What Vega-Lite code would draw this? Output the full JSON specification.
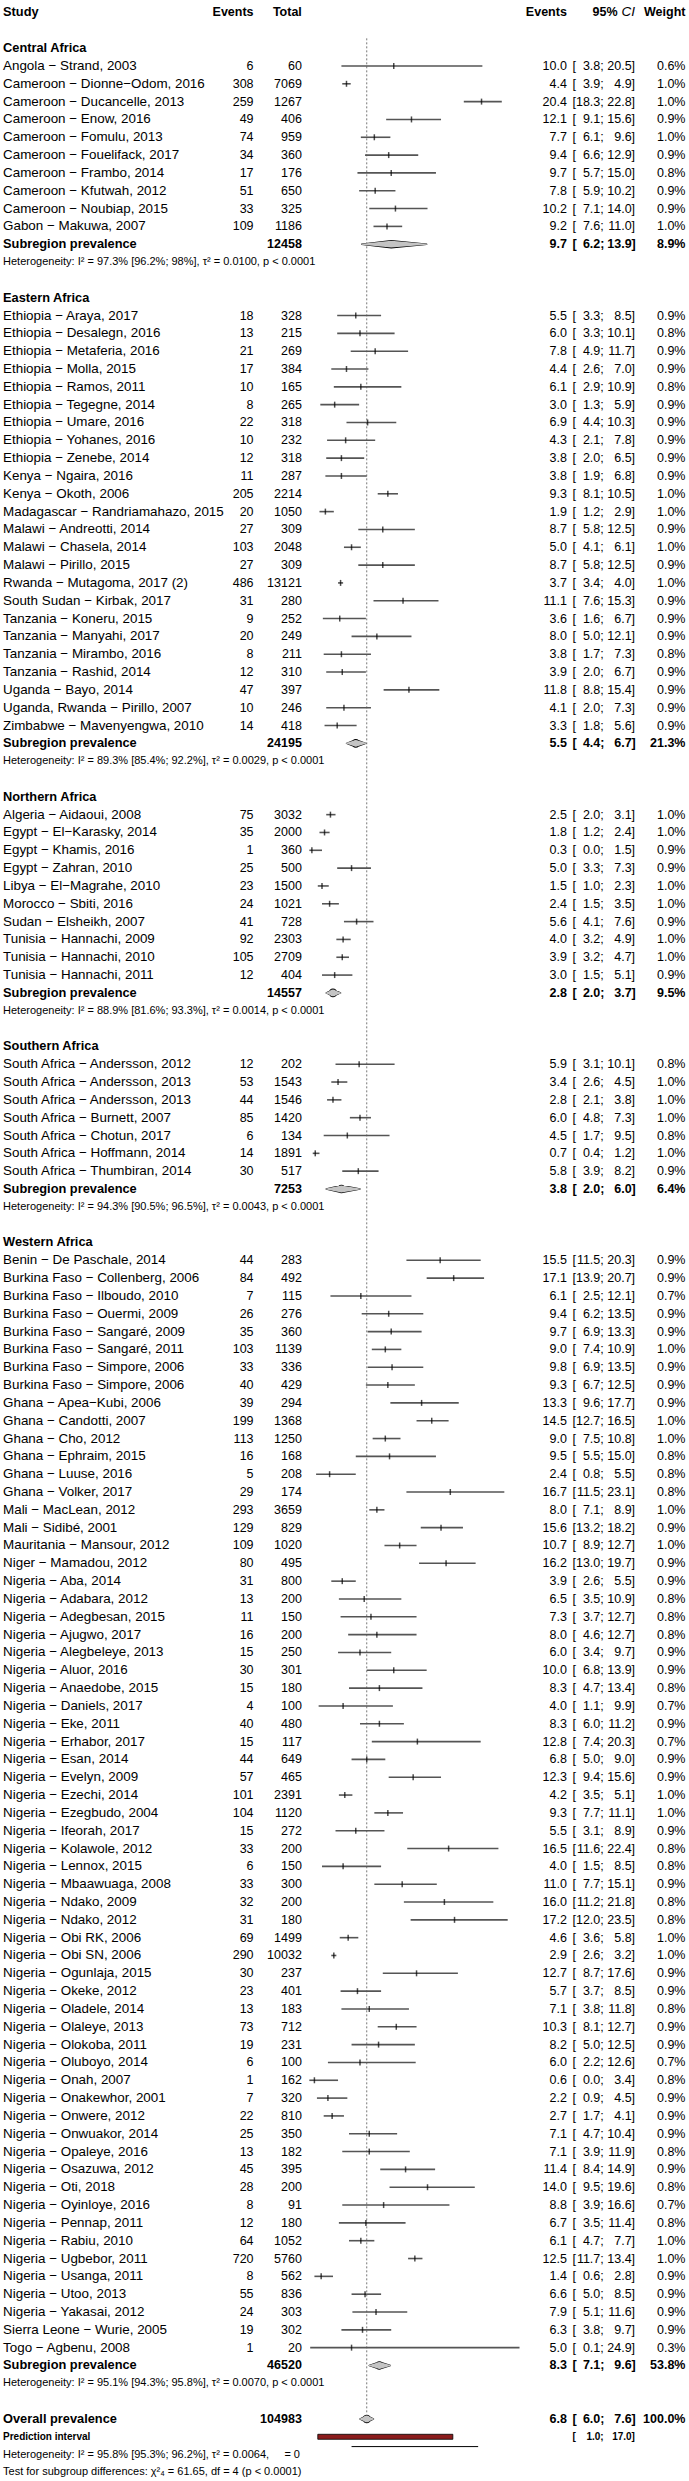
{
"$schema": "https://vega.github.io/schema/vega-lite/v6.json",
"width": 689, "height": 2481, "padding": 0, "autosize": {"type": "none"},
"background": "white",
"config": {"view": {"stroke": null}, "text": {"font": "Liberation Sans", "fontSize": 12.5, "baseline": "middle", "color": "#000"}},
"data": {"name": "rows"},
"datasets": {"rows": [
{"row":0,"type":"colhead","label":"Study"},
{"row":2,"type":"region","label":"Central Africa"},
{"row":3,"type":"study","label":"Angola − Strand, 2003","ev":6,"n":60,"est":10.0,"lo":3.8,"hi":20.5,"w":0.006},
{"row":4,"type":"study","label":"Cameroon − Dionne−Odom, 2016","ev":308,"n":7069,"est":4.4,"lo":3.9,"hi":4.9,"w":0.010},
{"row":5,"type":"study","label":"Cameroon − Ducancelle, 2013","ev":259,"n":1267,"est":20.4,"lo":18.3,"hi":22.8,"w":0.010},
{"row":6,"type":"study","label":"Cameroon − Enow, 2016","ev":49,"n":406,"est":12.1,"lo":9.1,"hi":15.6,"w":0.009},
{"row":7,"type":"study","label":"Cameroon − Fomulu, 2013","ev":74,"n":959,"est":7.7,"lo":6.1,"hi":9.6,"w":0.010},
{"row":8,"type":"study","label":"Cameroon − Fouelifack, 2017","ev":34,"n":360,"est":9.4,"lo":6.6,"hi":12.9,"w":0.009},
{"row":9,"type":"study","label":"Cameroon − Frambo, 2014","ev":17,"n":176,"est":9.7,"lo":5.7,"hi":15.0,"w":0.008},
{"row":10,"type":"study","label":"Cameroon − Kfutwah, 2012","ev":51,"n":650,"est":7.8,"lo":5.9,"hi":10.2,"w":0.009},
{"row":11,"type":"study","label":"Cameroon − Noubiap, 2015","ev":33,"n":325,"est":10.2,"lo":7.1,"hi":14.0,"w":0.009},
{"row":12,"type":"study","label":"Gabon − Makuwa, 2007","ev":109,"n":1186,"est":9.2,"lo":7.6,"hi":11.0,"w":0.010},
{"row":13,"type":"sub","label":"Subregion prevalence","n":12458,"est":9.7,"lo":6.2,"hi":13.9,"w":0.089},
{"row":14,"type":"het","label":"Heterogeneity: I² = 97.3% [96.2%; 98%], τ² = 0.0100, p < 0.0001"},
{"row":16,"type":"region","label":"Eastern Africa"},
{"row":17,"type":"study","label":"Ethiopia − Araya, 2017","ev":18,"n":328,"est":5.5,"lo":3.3,"hi":8.5,"w":0.009},
{"row":18,"type":"study","label":"Ethiopia − Desalegn, 2016","ev":13,"n":215,"est":6.0,"lo":3.3,"hi":10.1,"w":0.008},
{"row":19,"type":"study","label":"Ethiopia − Metaferia, 2016","ev":21,"n":269,"est":7.8,"lo":4.9,"hi":11.7,"w":0.009},
{"row":20,"type":"study","label":"Ethiopia − Molla, 2015","ev":17,"n":384,"est":4.4,"lo":2.6,"hi":7.0,"w":0.009},
{"row":21,"type":"study","label":"Ethiopia − Ramos, 2011","ev":10,"n":165,"est":6.1,"lo":2.9,"hi":10.9,"w":0.008},
{"row":22,"type":"study","label":"Ethiopia − Tegegne, 2014","ev":8,"n":265,"est":3.0,"lo":1.3,"hi":5.9,"w":0.009},
{"row":23,"type":"study","label":"Ethiopia − Umare, 2016","ev":22,"n":318,"est":6.9,"lo":4.4,"hi":10.3,"w":0.009},
{"row":24,"type":"study","label":"Ethiopia − Yohanes, 2016","ev":10,"n":232,"est":4.3,"lo":2.1,"hi":7.8,"w":0.009},
{"row":25,"type":"study","label":"Ethiopia − Zenebe, 2014","ev":12,"n":318,"est":3.8,"lo":2.0,"hi":6.5,"w":0.009},
{"row":26,"type":"study","label":"Kenya − Ngaira, 2016","ev":11,"n":287,"est":3.8,"lo":1.9,"hi":6.8,"w":0.009},
{"row":27,"type":"study","label":"Kenya − Okoth, 2006","ev":205,"n":2214,"est":9.3,"lo":8.1,"hi":10.5,"w":0.010},
{"row":28,"type":"study","label":"Madagascar − Randriamahazo, 2015","ev":20,"n":1050,"est":1.9,"lo":1.2,"hi":2.9,"w":0.010},
{"row":29,"type":"study","label":"Malawi − Andreotti, 2014","ev":27,"n":309,"est":8.7,"lo":5.8,"hi":12.5,"w":0.009},
{"row":30,"type":"study","label":"Malawi − Chasela, 2014","ev":103,"n":2048,"est":5.0,"lo":4.1,"hi":6.1,"w":0.010},
{"row":31,"type":"study","label":"Malawi − Pirillo, 2015","ev":27,"n":309,"est":8.7,"lo":5.8,"hi":12.5,"w":0.009},
{"row":32,"type":"study","label":"Rwanda − Mutagoma, 2017 (2)","ev":486,"n":13121,"est":3.7,"lo":3.4,"hi":4.0,"w":0.010},
{"row":33,"type":"study","label":"South Sudan − Kirbak, 2017","ev":31,"n":280,"est":11.1,"lo":7.6,"hi":15.3,"w":0.009},
{"row":34,"type":"study","label":"Tanzania − Koneru, 2015","ev":9,"n":252,"est":3.6,"lo":1.6,"hi":6.7,"w":0.009},
{"row":35,"type":"study","label":"Tanzania − Manyahi, 2017","ev":20,"n":249,"est":8.0,"lo":5.0,"hi":12.1,"w":0.009},
{"row":36,"type":"study","label":"Tanzania − Mirambo, 2016","ev":8,"n":211,"est":3.8,"lo":1.7,"hi":7.3,"w":0.008},
{"row":37,"type":"study","label":"Tanzania − Rashid, 2014","ev":12,"n":310,"est":3.9,"lo":2.0,"hi":6.7,"w":0.009},
{"row":38,"type":"study","label":"Uganda − Bayo, 2014","ev":47,"n":397,"est":11.8,"lo":8.8,"hi":15.4,"w":0.009},
{"row":39,"type":"study","label":"Uganda, Rwanda − Pirillo, 2007","ev":10,"n":246,"est":4.1,"lo":2.0,"hi":7.3,"w":0.009},
{"row":40,"type":"study","label":"Zimbabwe − Mavenyengwa, 2010","ev":14,"n":418,"est":3.3,"lo":1.8,"hi":5.6,"w":0.009},
{"row":41,"type":"sub","label":"Subregion prevalence","n":24195,"est":5.5,"lo":4.4,"hi":6.7,"w":0.213},
{"row":42,"type":"het","label":"Heterogeneity: I² = 89.3% [85.4%; 92.2%], τ² = 0.0029, p < 0.0001"},
{"row":44,"type":"region","label":"Northern Africa"},
{"row":45,"type":"study","label":"Algeria − Aidaoui, 2008","ev":75,"n":3032,"est":2.5,"lo":2.0,"hi":3.1,"w":0.010},
{"row":46,"type":"study","label":"Egypt − El−Karasky, 2014","ev":35,"n":2000,"est":1.8,"lo":1.2,"hi":2.4,"w":0.010},
{"row":47,"type":"study","label":"Egypt − Khamis, 2016","ev":1,"n":360,"est":0.3,"lo":0.0,"hi":1.5,"w":0.009},
{"row":48,"type":"study","label":"Egypt − Zahran, 2010","ev":25,"n":500,"est":5.0,"lo":3.3,"hi":7.3,"w":0.009},
{"row":49,"type":"study","label":"Libya − El−Magrahe, 2010","ev":23,"n":1500,"est":1.5,"lo":1.0,"hi":2.3,"w":0.010},
{"row":50,"type":"study","label":"Morocco − Sbiti, 2016","ev":24,"n":1021,"est":2.4,"lo":1.5,"hi":3.5,"w":0.010},
{"row":51,"type":"study","label":"Sudan − Elsheikh, 2007","ev":41,"n":728,"est":5.6,"lo":4.1,"hi":7.6,"w":0.009},
{"row":52,"type":"study","label":"Tunisia − Hannachi, 2009","ev":92,"n":2303,"est":4.0,"lo":3.2,"hi":4.9,"w":0.010},
{"row":53,"type":"study","label":"Tunisia − Hannachi, 2010","ev":105,"n":2709,"est":3.9,"lo":3.2,"hi":4.7,"w":0.010},
{"row":54,"type":"study","label":"Tunisia − Hannachi, 2011","ev":12,"n":404,"est":3.0,"lo":1.5,"hi":5.1,"w":0.009},
{"row":55,"type":"sub","label":"Subregion prevalence","n":14557,"est":2.8,"lo":2.0,"hi":3.7,"w":0.095},
{"row":56,"type":"het","label":"Heterogeneity: I² = 88.9% [81.6%; 93.3%], τ² = 0.0014, p < 0.0001"},
{"row":58,"type":"region","label":"Southern Africa"},
{"row":59,"type":"study","label":"South Africa − Andersson, 2012","ev":12,"n":202,"est":5.9,"lo":3.1,"hi":10.1,"w":0.008},
{"row":60,"type":"study","label":"South Africa − Andersson, 2013","ev":53,"n":1543,"est":3.4,"lo":2.6,"hi":4.5,"w":0.010},
{"row":61,"type":"study","label":"South Africa − Andersson, 2013","ev":44,"n":1546,"est":2.8,"lo":2.1,"hi":3.8,"w":0.010},
{"row":62,"type":"study","label":"South Africa − Burnett, 2007","ev":85,"n":1420,"est":6.0,"lo":4.8,"hi":7.3,"w":0.010},
{"row":63,"type":"study","label":"South Africa − Chotun, 2017","ev":6,"n":134,"est":4.5,"lo":1.7,"hi":9.5,"w":0.008},
{"row":64,"type":"study","label":"South Africa − Hoffmann, 2014","ev":14,"n":1891,"est":0.7,"lo":0.4,"hi":1.2,"w":0.010},
{"row":65,"type":"study","label":"South Africa − Thumbiran, 2014","ev":30,"n":517,"est":5.8,"lo":3.9,"hi":8.2,"w":0.009},
{"row":66,"type":"sub","label":"Subregion prevalence","n":7253,"est":3.8,"lo":2.0,"hi":6.0,"w":0.064},
{"row":67,"type":"het","label":"Heterogeneity: I² = 94.3% [90.5%; 96.5%], τ² = 0.0043, p < 0.0001"},
{"row":69,"type":"region","label":"Western Africa"},
{"row":70,"type":"study","label":"Benin − De Paschale, 2014","ev":44,"n":283,"est":15.5,"lo":11.5,"hi":20.3,"w":0.009},
{"row":71,"type":"study","label":"Burkina Faso − Collenberg, 2006","ev":84,"n":492,"est":17.1,"lo":13.9,"hi":20.7,"w":0.009},
{"row":72,"type":"study","label":"Burkina Faso − Ilboudo, 2010","ev":7,"n":115,"est":6.1,"lo":2.5,"hi":12.1,"w":0.007},
{"row":73,"type":"study","label":"Burkina Faso − Ouermi, 2009","ev":26,"n":276,"est":9.4,"lo":6.2,"hi":13.5,"w":0.009},
{"row":74,"type":"study","label":"Burkina Faso − Sangaré, 2009","ev":35,"n":360,"est":9.7,"lo":6.9,"hi":13.3,"w":0.009},
{"row":75,"type":"study","label":"Burkina Faso − Sangaré, 2011","ev":103,"n":1139,"est":9.0,"lo":7.4,"hi":10.9,"w":0.010},
{"row":76,"type":"study","label":"Burkina Faso − Simpore, 2006","ev":33,"n":336,"est":9.8,"lo":6.9,"hi":13.5,"w":0.009},
{"row":77,"type":"study","label":"Burkina Faso − Simpore, 2006","ev":40,"n":429,"est":9.3,"lo":6.7,"hi":12.5,"w":0.009},
{"row":78,"type":"study","label":"Ghana − Apea−Kubi, 2006","ev":39,"n":294,"est":13.3,"lo":9.6,"hi":17.7,"w":0.009},
{"row":79,"type":"study","label":"Ghana − Candotti, 2007","ev":199,"n":1368,"est":14.5,"lo":12.7,"hi":16.5,"w":0.010},
{"row":80,"type":"study","label":"Ghana − Cho, 2012","ev":113,"n":1250,"est":9.0,"lo":7.5,"hi":10.8,"w":0.010},
{"row":81,"type":"study","label":"Ghana − Ephraim, 2015","ev":16,"n":168,"est":9.5,"lo":5.5,"hi":15.0,"w":0.008},
{"row":82,"type":"study","label":"Ghana − Luuse, 2016","ev":5,"n":208,"est":2.4,"lo":0.8,"hi":5.5,"w":0.008},
{"row":83,"type":"study","label":"Ghana − Volker, 2017","ev":29,"n":174,"est":16.7,"lo":11.5,"hi":23.1,"w":0.008},
{"row":84,"type":"study","label":"Mali − MacLean, 2012","ev":293,"n":3659,"est":8.0,"lo":7.1,"hi":8.9,"w":0.010},
{"row":85,"type":"study","label":"Mali − Sidibé, 2001","ev":129,"n":829,"est":15.6,"lo":13.2,"hi":18.2,"w":0.009},
{"row":86,"type":"study","label":"Mauritania − Mansour, 2012","ev":109,"n":1020,"est":10.7,"lo":8.9,"hi":12.7,"w":0.010},
{"row":87,"type":"study","label":"Niger − Mamadou, 2012","ev":80,"n":495,"est":16.2,"lo":13.0,"hi":19.7,"w":0.009},
{"row":88,"type":"study","label":"Nigeria − Aba, 2014","ev":31,"n":800,"est":3.9,"lo":2.6,"hi":5.5,"w":0.009},
{"row":89,"type":"study","label":"Nigeria − Adabara, 2012","ev":13,"n":200,"est":6.5,"lo":3.5,"hi":10.9,"w":0.008},
{"row":90,"type":"study","label":"Nigeria − Adegbesan, 2015","ev":11,"n":150,"est":7.3,"lo":3.7,"hi":12.7,"w":0.008},
{"row":91,"type":"study","label":"Nigeria − Ajugwo, 2017","ev":16,"n":200,"est":8.0,"lo":4.6,"hi":12.7,"w":0.008},
{"row":92,"type":"study","label":"Nigeria − Alegbeleye, 2013","ev":15,"n":250,"est":6.0,"lo":3.4,"hi":9.7,"w":0.009},
{"row":93,"type":"study","label":"Nigeria − Aluor, 2016","ev":30,"n":301,"est":10.0,"lo":6.8,"hi":13.9,"w":0.009},
{"row":94,"type":"study","label":"Nigeria − Anaedobe, 2015","ev":15,"n":180,"est":8.3,"lo":4.7,"hi":13.4,"w":0.008},
{"row":95,"type":"study","label":"Nigeria − Daniels, 2017","ev":4,"n":100,"est":4.0,"lo":1.1,"hi":9.9,"w":0.007},
{"row":96,"type":"study","label":"Nigeria − Eke, 2011","ev":40,"n":480,"est":8.3,"lo":6.0,"hi":11.2,"w":0.009},
{"row":97,"type":"study","label":"Nigeria − Erhabor, 2017","ev":15,"n":117,"est":12.8,"lo":7.4,"hi":20.3,"w":0.007},
{"row":98,"type":"study","label":"Nigeria − Esan, 2014","ev":44,"n":649,"est":6.8,"lo":5.0,"hi":9.0,"w":0.009},
{"row":99,"type":"study","label":"Nigeria − Evelyn, 2009","ev":57,"n":465,"est":12.3,"lo":9.4,"hi":15.6,"w":0.009},
{"row":100,"type":"study","label":"Nigeria − Ezechi, 2014","ev":101,"n":2391,"est":4.2,"lo":3.5,"hi":5.1,"w":0.010},
{"row":101,"type":"study","label":"Nigeria − Ezegbudo, 2004","ev":104,"n":1120,"est":9.3,"lo":7.7,"hi":11.1,"w":0.010},
{"row":102,"type":"study","label":"Nigeria − Ifeorah, 2017","ev":15,"n":272,"est":5.5,"lo":3.1,"hi":8.9,"w":0.009},
{"row":103,"type":"study","label":"Nigeria − Kolawole, 2012","ev":33,"n":200,"est":16.5,"lo":11.6,"hi":22.4,"w":0.008},
{"row":104,"type":"study","label":"Nigeria − Lennox, 2015","ev":6,"n":150,"est":4.0,"lo":1.5,"hi":8.5,"w":0.008},
{"row":105,"type":"study","label":"Nigeria − Mbaawuaga, 2008","ev":33,"n":300,"est":11.0,"lo":7.7,"hi":15.1,"w":0.009},
{"row":106,"type":"study","label":"Nigeria − Ndako, 2009","ev":32,"n":200,"est":16.0,"lo":11.2,"hi":21.8,"w":0.008},
{"row":107,"type":"study","label":"Nigeria − Ndako, 2012","ev":31,"n":180,"est":17.2,"lo":12.0,"hi":23.5,"w":0.008},
{"row":108,"type":"study","label":"Nigeria − Obi RK, 2006","ev":69,"n":1499,"est":4.6,"lo":3.6,"hi":5.8,"w":0.010},
{"row":109,"type":"study","label":"Nigeria − Obi SN, 2006","ev":290,"n":10032,"est":2.9,"lo":2.6,"hi":3.2,"w":0.010},
{"row":110,"type":"study","label":"Nigeria − Ogunlaja, 2015","ev":30,"n":237,"est":12.7,"lo":8.7,"hi":17.6,"w":0.009},
{"row":111,"type":"study","label":"Nigeria − Okeke, 2012","ev":23,"n":401,"est":5.7,"lo":3.7,"hi":8.5,"w":0.009},
{"row":112,"type":"study","label":"Nigeria − Oladele, 2014","ev":13,"n":183,"est":7.1,"lo":3.8,"hi":11.8,"w":0.008},
{"row":113,"type":"study","label":"Nigeria − Olaleye, 2013","ev":73,"n":712,"est":10.3,"lo":8.1,"hi":12.7,"w":0.009},
{"row":114,"type":"study","label":"Nigeria − Olokoba, 2011","ev":19,"n":231,"est":8.2,"lo":5.0,"hi":12.5,"w":0.009},
{"row":115,"type":"study","label":"Nigeria − Oluboyo, 2014","ev":6,"n":100,"est":6.0,"lo":2.2,"hi":12.6,"w":0.007},
{"row":116,"type":"study","label":"Nigeria − Onah, 2007","ev":1,"n":162,"est":0.6,"lo":0.0,"hi":3.4,"w":0.008},
{"row":117,"type":"study","label":"Nigeria − Onakewhor, 2001","ev":7,"n":320,"est":2.2,"lo":0.9,"hi":4.5,"w":0.009},
{"row":118,"type":"study","label":"Nigeria − Onwere, 2012","ev":22,"n":810,"est":2.7,"lo":1.7,"hi":4.1,"w":0.009},
{"row":119,"type":"study","label":"Nigeria − Onwuakor, 2014","ev":25,"n":350,"est":7.1,"lo":4.7,"hi":10.4,"w":0.009},
{"row":120,"type":"study","label":"Nigeria − Opaleye, 2016","ev":13,"n":182,"est":7.1,"lo":3.9,"hi":11.9,"w":0.008},
{"row":121,"type":"study","label":"Nigeria − Osazuwa, 2012","ev":45,"n":395,"est":11.4,"lo":8.4,"hi":14.9,"w":0.009},
{"row":122,"type":"study","label":"Nigeria − Oti, 2018","ev":28,"n":200,"est":14.0,"lo":9.5,"hi":19.6,"w":0.008},
{"row":123,"type":"study","label":"Nigeria − Oyinloye, 2016","ev":8,"n":91,"est":8.8,"lo":3.9,"hi":16.6,"w":0.007},
{"row":124,"type":"study","label":"Nigeria − Pennap, 2011","ev":12,"n":180,"est":6.7,"lo":3.5,"hi":11.4,"w":0.008},
{"row":125,"type":"study","label":"Nigeria − Rabiu, 2010","ev":64,"n":1052,"est":6.1,"lo":4.7,"hi":7.7,"w":0.010},
{"row":126,"type":"study","label":"Nigeria − Ugbebor, 2011","ev":720,"n":5760,"est":12.5,"lo":11.7,"hi":13.4,"w":0.010},
{"row":127,"type":"study","label":"Nigeria − Usanga, 2011","ev":8,"n":562,"est":1.4,"lo":0.6,"hi":2.8,"w":0.009},
{"row":128,"type":"study","label":"Nigeria − Utoo, 2013","ev":55,"n":836,"est":6.6,"lo":5.0,"hi":8.5,"w":0.009},
{"row":129,"type":"study","label":"Nigeria − Yakasai, 2012","ev":24,"n":303,"est":7.9,"lo":5.1,"hi":11.6,"w":0.009},
{"row":130,"type":"study","label":"Sierra Leone − Wurie, 2005","ev":19,"n":302,"est":6.3,"lo":3.8,"hi":9.7,"w":0.009},
{"row":131,"type":"study","label":"Togo − Agbenu, 2008","ev":1,"n":20,"est":5.0,"lo":0.1,"hi":24.9,"w":0.003},
{"row":132,"type":"sub","label":"Subregion prevalence","n":46520,"est":8.3,"lo":7.1,"hi":9.6,"w":0.538},
{"row":133,"type":"het","label":"Heterogeneity: I² = 95.1% [94.3%; 95.8%], τ² = 0.0070, p < 0.0001"},
{"row":135,"type":"overall","label":"Overall prevalence","n":104983,"est":6.8,"lo":6.0,"hi":7.6,"w":1.0},
{"row":136,"type":"pi","label":"Prediction interval","lo":1.0,"hi":17.0},
{"row":137,"type":"het","label":"Heterogeneity: I² = 95.8% [95.3%; 96.2%], τ² = 0.0064,\u00a0\u00a0\u00a0\u00a0 = 0"},
{"row":138,"type":"het","label":"Test for subgroup differences: χ²₄ = 61.65, df = 4 (p < 0.0001)"}
]},
"encoding": {"y": {"field": "row", "type": "quantitative", "scale": {"domain": [-0.42, 138.2], "reverse": true, "nice": false, "zero": false}, "axis": null}},
"layer": [
{"transform": [{"filter": "datum.type == 'overall'"}],
 "mark": {"type": "rule", "strokeDash": [2, 2], "color": "#777", "strokeWidth": 1},
 "encoding": {"x": {"field": "est", "type": "quantitative", "scale": {"domain": [-36.65, 44.98], "nice": false, "zero": false}, "axis": null},
  "y": {"datum": 1.45, "type": "quantitative", "scale": {"domain": [-0.42, 138.2], "reverse": true, "nice": false, "zero": false}, "axis": null},
  "y2": {"datum": 134.7}}},
{"transform": [{"filter": "datum.type == 'study'"}],
 "mark": {"type": "rule", "color": "#555", "strokeWidth": 1.6},
 "encoding": {"x": {"field": "lo", "type": "quantitative", "scale": {"domain": [-36.65, 44.98], "nice": false, "zero": false},
   "axis": {"values": [5, 10, 15, 20], "format": "d", "domain": false, "grid": false, "ticks": true, "tickSize": 6, "tickColor": "#000", "tickWidth": 1, "labelFont": "Liberation Sans", "labelFontSize": 12.5, "labelColor": "#000", "labelPadding": 2, "offset": -29.5, "title": null, "orient": "bottom", "labelFlush": false, "labelOverlap": false}},
  "x2": {"field": "hi"}}},
{"transform": [{"filter": "datum.type == 'study'"}],
 "mark": {"type": "tick", "orient": "vertical", "color": "#000", "size": 6, "thickness": 1.5},
 "encoding": {"x": {"field": "est", "type": "quantitative", "scale": {"domain": [-36.65, 44.98], "nice": false, "zero": false}, "axis": null}}},
{"transform": [{"filter": "datum.type == 'sub' || datum.type == 'overall'"}, {"fold": ["lo", "est", "hi"], "as": ["k", "v"]}],
 "mark": {"type": "trail", "color": "#000", "opacity": 1},
 "encoding": {"x": {"field": "v", "type": "quantitative", "scale": {"domain": [-36.65, 44.98], "nice": false, "zero": false}, "axis": null},
  "detail": {"field": "row"}, "order": {"field": "v", "type": "quantitative"},
  "size": {"condition": {"test": "datum.k == 'est'", "value": 8.6}, "value": 1.4}}},
{"transform": [{"filter": "datum.type == 'sub' || datum.type == 'overall'"}, {"fold": ["lo", "est", "hi"], "as": ["k", "v"]}],
 "mark": {"type": "trail", "color": "#c4c4c4", "opacity": 1},
 "encoding": {"x": {"field": "v", "type": "quantitative", "scale": {"domain": [-36.65, 44.98], "nice": false, "zero": false}, "axis": null},
  "detail": {"field": "row"}, "order": {"field": "v", "type": "quantitative"},
  "size": {"condition": {"test": "datum.k == 'est'", "value": 6.8}, "value": 0}}},
{"transform": [{"filter": "datum.type == 'pi'"}],
 "mark": {"type": "bar", "fill": "#8b1c1c", "stroke": "#000", "strokeWidth": 0.8, "size": 5},
 "encoding": {"x": {"field": "lo", "type": "quantitative", "scale": {"domain": [-36.65, 44.98], "nice": false, "zero": false}, "axis": null}, "x2": {"field": "hi"}}},
{"transform": [{"filter": "datum.type == 'overall'"}],
 "mark": {"type": "rule", "color": "#000", "strokeWidth": 1},
 "encoding": {"x": {"datum": 5, "type": "quantitative", "scale": {"domain": [-36.65, 44.98], "nice": false, "zero": false}, "axis": null},
  "x2": {"datum": 20},
  "y": {"datum": 136.55, "type": "quantitative", "scale": {"domain": [-0.42, 138.2], "reverse": true, "nice": false, "zero": false}, "axis": null}}},
{"transform": [{"filter": "datum.label != null"}],
 "mark": {"type": "text", "align": "left",
  "fontWeight": {"expr": "datum.type == 'study' || datum.type == 'het' ? 'normal' : 'bold'"},
  "fontSize": {"expr": "datum.type == 'het' ? 11 : datum.type == 'pi' ? 10 : datum.type == 'study' ? 13.4 : 12.8"}},
 "encoding": {"x": {"datum": -36.29, "type": "quantitative", "scale": {"domain": [-36.65, 44.98], "nice": false, "zero": false}, "axis": null}, "text": {"field": "label"}}},
{"transform": [{"filter": "datum.ev != null"}],
 "mark": {"type": "text", "align": "right"},
 "encoding": {"x": {"datum": -6.611, "type": "quantitative", "scale": {"domain": [-36.65, 44.98], "nice": false, "zero": false}, "axis": null}, "text": {"field": "ev", "type": "quantitative", "format": "d"}}},
{"transform": [{"filter": "datum.n != null"}],
 "mark": {"type": "text", "align": "right", "fontWeight": {"expr": "datum.type == 'study' ? 'normal' : 'bold'"}},
 "encoding": {"x": {"datum": -0.889, "type": "quantitative", "scale": {"domain": [-36.65, 44.98], "nice": false, "zero": false}, "axis": null}, "text": {"field": "n", "type": "quantitative", "format": "d"}}},
{"transform": [{"filter": "datum.est != null"}],
 "mark": {"type": "text", "align": "right", "fontWeight": {"expr": "datum.type == 'study' ? 'normal' : 'bold'"}},
 "encoding": {"x": {"datum": 30.51, "type": "quantitative", "scale": {"domain": [-36.65, 44.98], "nice": false, "zero": false}, "axis": null}, "text": {"field": "est", "type": "quantitative", "format": ".1f"}}},
{"transform": [{"filter": "datum.lo != null"}],
 "mark": {"type": "text", "align": "left", "fontWeight": {"expr": "datum.type == 'study' ? 'normal' : 'bold'"}, "fontSize": {"expr": "datum.type == 'pi' ? 10 : 12.5"}},
 "encoding": {"x": {"datum": 31.17, "type": "quantitative", "scale": {"domain": [-36.65, 44.98], "nice": false, "zero": false}, "axis": null}, "text": {"value": "["}}},
{"transform": [{"filter": "datum.lo != null"}],
 "mark": {"type": "text", "align": "right", "fontWeight": {"expr": "datum.type == 'study' ? 'normal' : 'bold'"}, "fontSize": {"expr": "datum.type == 'pi' ? 10 : 12.5"}},
 "encoding": {"x": {"datum": 34.47, "type": "quantitative", "scale": {"domain": [-36.65, 44.98], "nice": false, "zero": false}, "axis": null}, "text": {"field": "lo", "type": "quantitative", "format": ".1f"}}},
{"transform": [{"filter": "datum.lo != null"}],
 "mark": {"type": "text", "align": "left", "fontWeight": {"expr": "datum.type == 'study' ? 'normal' : 'bold'"}, "fontSize": {"expr": "datum.type == 'pi' ? 10 : 12.5"}},
 "encoding": {"x": {"datum": 34.47, "type": "quantitative", "scale": {"domain": [-36.65, 44.98], "nice": false, "zero": false}, "axis": null}, "text": {"value": ";"}}},
{"transform": [{"filter": "datum.hi != null"}],
 "mark": {"type": "text", "align": "right", "fontWeight": {"expr": "datum.type == 'study' ? 'normal' : 'bold'"}, "fontSize": {"expr": "datum.type == 'pi' ? 10 : 12.5"}},
 "encoding": {"x": {"datum": 38.18, "type": "quantitative", "scale": {"domain": [-36.65, 44.98], "nice": false, "zero": false}, "axis": null}, "text": {"field": "hi", "type": "quantitative", "format": ".1f"}}},
{"transform": [{"filter": "datum.hi != null"}],
 "mark": {"type": "text", "align": "left", "fontWeight": {"expr": "datum.type == 'study' ? 'normal' : 'bold'"}, "fontSize": {"expr": "datum.type == 'pi' ? 10 : 12.5"}},
 "encoding": {"x": {"datum": 38.18, "type": "quantitative", "scale": {"domain": [-36.65, 44.98], "nice": false, "zero": false}, "axis": null}, "text": {"value": "]"}}},
{"transform": [{"filter": "datum.w != null"}],
 "mark": {"type": "text", "align": "right", "fontWeight": {"expr": "datum.type == 'study' ? 'normal' : 'bold'"}},
 "encoding": {"x": {"datum": 44.56, "type": "quantitative", "scale": {"domain": [-36.65, 44.98], "nice": false, "zero": false}, "axis": null}, "text": {"field": "w", "type": "quantitative", "format": ".1%"}}},
{"transform": [{"filter": "datum.type == 'colhead'"}],
 "mark": {"type": "text", "align": "right", "fontWeight": "bold"},
 "encoding": {"x": {"datum": -6.611, "type": "quantitative", "scale": {"domain": [-36.65, 44.98], "nice": false, "zero": false}, "axis": null}, "text": {"value": "Events"}}},
{"transform": [{"filter": "datum.type == 'colhead'"}],
 "mark": {"type": "text", "align": "right", "fontWeight": "bold"},
 "encoding": {"x": {"datum": -0.889, "type": "quantitative", "scale": {"domain": [-36.65, 44.98], "nice": false, "zero": false}, "axis": null}, "text": {"value": "Total"}}},
{"transform": [{"filter": "datum.type == 'colhead'"}],
 "mark": {"type": "text", "align": "right", "fontWeight": "bold"},
 "encoding": {"x": {"datum": 30.51, "type": "quantitative", "scale": {"domain": [-36.65, 44.98], "nice": false, "zero": false}, "axis": null}, "text": {"value": "Events"}}},
{"transform": [{"filter": "datum.type == 'colhead'"}],
 "mark": {"type": "text", "align": "right", "fontWeight": "bold"},
 "encoding": {"x": {"datum": 36.52, "type": "quantitative", "scale": {"domain": [-36.65, 44.98], "nice": false, "zero": false}, "axis": null}, "text": {"value": "95%"}}},
{"transform": [{"filter": "datum.type == 'colhead'"}],
 "mark": {"type": "text", "align": "right", "fontStyle": "italic", "fontSize": 13.5},
 "encoding": {"x": {"datum": 38.59, "type": "quantitative", "scale": {"domain": [-36.65, 44.98], "nice": false, "zero": false}, "axis": null}, "text": {"value": "CI"}}},
{"transform": [{"filter": "datum.type == 'colhead'"}],
 "mark": {"type": "text", "align": "right", "fontWeight": "bold"},
 "encoding": {"x": {"datum": 44.56, "type": "quantitative", "scale": {"domain": [-36.65, 44.98], "nice": false, "zero": false}, "axis": null}, "text": {"value": "Weight"}}}
]
}
